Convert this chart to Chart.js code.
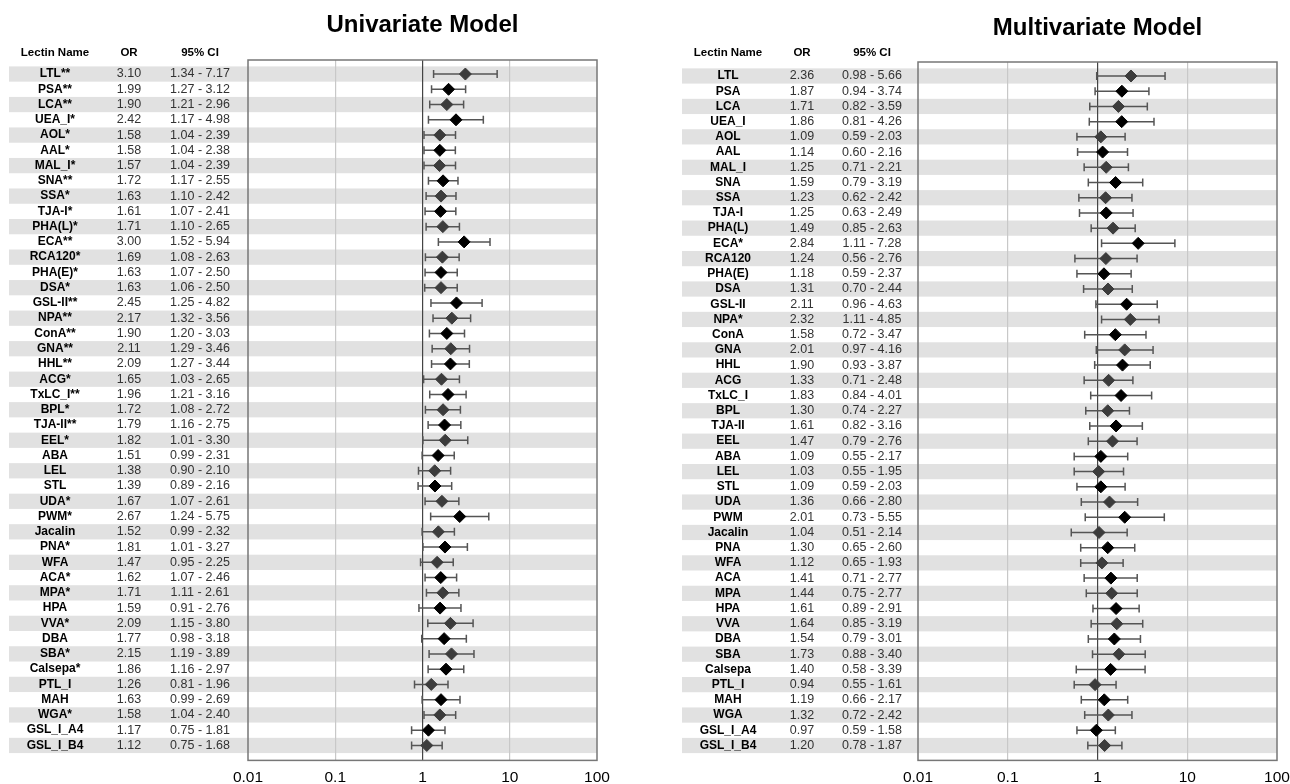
<!DOCTYPE html>
<html>
<head>
<meta charset="utf-8">
<script src="https://cdn.jsdelivr.net/npm/chart.js@4.4.1/dist/chart.umd.min.js"></script>
<style>
  body { margin: 0; background: #fff; overflow: hidden; }
  .panel { position: absolute; top: 0; height: 795px; }
</style>
</head>
<body>
<div class="panel" style="left:0;width:645px"><canvas id="uniChart" width="645" height="795"></canvas></div>
<div class="panel" style="left:645px;width:665px"><canvas id="multiChart" width="665" height="795"></canvas></div>
<script>
// Univariate model
const uniNames = ['LTL**', 'PSA**', 'LCA**', 'UEA_I*', 'AOL*', 'AAL*', 'MAL_I*', 'SNA**', 'SSA*', 'TJA-I*',
  'PHA(L)*', 'ECA**', 'RCA120*', 'PHA(E)*', 'DSA*', 'GSL-II**', 'NPA**', 'ConA**', 'GNA**', 'HHL**',
  'ACG*', 'TxLC_I**', 'BPL*', 'TJA-II**', 'EEL*', 'ABA', 'LEL', 'STL', 'UDA*', 'PWM*',
  'Jacalin', 'PNA*', 'WFA', 'ACA*', 'MPA*', 'HPA', 'VVA*', 'DBA', 'SBA*', 'Calsepa*',
  'PTL_I', 'MAH', 'WGA*', 'GSL_I_A4', 'GSL_I_B4'];
const uniOR = [3.10, 1.99, 1.90, 2.42, 1.58, 1.58, 1.57, 1.72, 1.63, 1.61,
  1.71, 3.00, 1.69, 1.63, 1.63, 2.45, 2.17, 1.90, 2.11, 2.09,
  1.65, 1.96, 1.72, 1.79, 1.82, 1.51, 1.38, 1.39, 1.67, 2.67,
  1.52, 1.81, 1.47, 1.62, 1.71, 1.59, 2.09, 1.77, 2.15, 1.86,
  1.26, 1.63, 1.58, 1.17, 1.12];
const uniLow = [1.34, 1.27, 1.21, 1.17, 1.04, 1.04, 1.04, 1.17, 1.10, 1.07,
  1.10, 1.52, 1.08, 1.07, 1.06, 1.25, 1.32, 1.20, 1.29, 1.27,
  1.03, 1.21, 1.08, 1.16, 1.01, 0.99, 0.90, 0.89, 1.07, 1.24,
  0.99, 1.01, 0.95, 1.07, 1.11, 0.91, 1.15, 0.98, 1.19, 1.16,
  0.81, 0.99, 1.04, 0.75, 0.75];
const uniHigh = [7.17, 3.12, 2.96, 4.98, 2.39, 2.38, 2.39, 2.55, 2.42, 2.41,
  2.65, 5.94, 2.63, 2.50, 2.50, 4.82, 3.56, 3.03, 3.46, 3.44,
  2.65, 3.16, 2.72, 2.75, 3.30, 2.31, 2.10, 2.16, 2.61, 5.75,
  2.32, 3.27, 2.25, 2.46, 2.61, 2.76, 3.80, 3.18, 3.89, 2.97,
  1.96, 2.69, 2.40, 1.81, 1.68];

// Multivariate model
const multiNames = ['LTL', 'PSA', 'LCA', 'UEA_I', 'AOL', 'AAL', 'MAL_I', 'SNA', 'SSA', 'TJA-I',
  'PHA(L)', 'ECA*', 'RCA120', 'PHA(E)', 'DSA', 'GSL-II', 'NPA*', 'ConA', 'GNA', 'HHL',
  'ACG', 'TxLC_I', 'BPL', 'TJA-II', 'EEL', 'ABA', 'LEL', 'STL', 'UDA', 'PWM',
  'Jacalin', 'PNA', 'WFA', 'ACA', 'MPA', 'HPA', 'VVA', 'DBA', 'SBA', 'Calsepa',
  'PTL_I', 'MAH', 'WGA', 'GSL_I_A4', 'GSL_I_B4'];
const multiOR = [2.36, 1.87, 1.71, 1.86, 1.09, 1.14, 1.25, 1.59, 1.23, 1.25,
  1.49, 2.84, 1.24, 1.18, 1.31, 2.11, 2.32, 1.58, 2.01, 1.90,
  1.33, 1.83, 1.30, 1.61, 1.47, 1.09, 1.03, 1.09, 1.36, 2.01,
  1.04, 1.30, 1.12, 1.41, 1.44, 1.61, 1.64, 1.54, 1.73, 1.40,
  0.94, 1.19, 1.32, 0.97, 1.20];
const multiLow = [0.98, 0.94, 0.82, 0.81, 0.59, 0.60, 0.71, 0.79, 0.62, 0.63,
  0.85, 1.11, 0.56, 0.59, 0.70, 0.96, 1.11, 0.72, 0.97, 0.93,
  0.71, 0.84, 0.74, 0.82, 0.79, 0.55, 0.55, 0.59, 0.66, 0.73,
  0.51, 0.65, 0.65, 0.71, 0.75, 0.89, 0.85, 0.79, 0.88, 0.58,
  0.55, 0.66, 0.72, 0.59, 0.78];
const multiHigh = [5.66, 3.74, 3.59, 4.26, 2.03, 2.16, 2.21, 3.19, 2.42, 2.49,
  2.63, 7.28, 2.76, 2.37, 2.44, 4.63, 4.85, 3.47, 4.16, 3.87,
  2.48, 4.01, 2.27, 3.16, 2.76, 2.17, 1.95, 2.03, 2.80, 5.55,
  2.14, 2.60, 1.93, 2.77, 2.77, 2.91, 3.19, 3.01, 3.40, 3.39,
  1.61, 2.17, 2.42, 1.58, 1.87];

const xTicks = [0.01, 0.1, 1, 10, 100];
const FONT = "'Liberation Sans', Arial, sans-serif";

// table text, stripes, error bars
const forestPlugin = {
  id: 'forest',
  beforeDraw(chart) {
    const o = chart.options.plugins.forest;
    const ctx = chart.ctx;
    const y = chart.scales.y;
    const area = chart.chartArea;
    ctx.save();
    // stripes
    ctx.fillStyle = '#e1e1e1';
    o.names.forEach((n, i) => {
      if (i % 2 !== 0) return;
      const top = y.getPixelForValue(i - 0.5);
      const bot = y.getPixelForValue(i + 0.5);
      ctx.fillRect(o.stripeLeft, top, area.right - o.stripeLeft, bot - top);
    });
    // title
    ctx.fillStyle = '#000';
    ctx.textAlign = 'center';
    ctx.textBaseline = 'middle';
    ctx.font = 'bold 24px ' + FONT;
    ctx.fillText(o.title, (area.left + area.right) / 2, o.titleY);
    // headers
    ctx.font = 'bold 11.5px ' + FONT;
    ctx.fillText('Lectin Name', o.colName, 53);
    ctx.fillText('OR', o.colOR, 53);
    ctx.fillText('95% CI', o.colCI, 53);
    // rows
    o.names.forEach((n, i) => {
      const py = y.getPixelForValue(i);
      ctx.font = 'bold 12px ' + FONT;
      ctx.fillStyle = '#000';
      ctx.fillText(n, o.colName, py);
      ctx.font = '12.5px ' + FONT;
      ctx.fillStyle = '#333';
      ctx.fillText(o.or[i].toFixed(2), o.colOR, py);
      ctx.fillText(o.low[i].toFixed(2) + ' - ' + o.high[i].toFixed(2), o.colCI, py);
    });
    ctx.restore();
  },
  beforeDatasetsDraw(chart) {
    const o = chart.options.plugins.forest;
    const ctx = chart.ctx;
    const x = chart.scales.x, y = chart.scales.y;
    ctx.save();
    ctx.strokeStyle = '#555';
    ctx.lineWidth = 1.5;
    o.low.forEach((lo, i) => {
      const py = y.getPixelForValue(i);
      const x1 = x.getPixelForValue(lo), x2 = x.getPixelForValue(o.high[i]);
      ctx.beginPath();
      ctx.moveTo(x1, py); ctx.lineTo(x2, py);
      ctx.moveTo(x1, py - 4); ctx.lineTo(x1, py + 4);
      ctx.moveTo(x2, py - 4); ctx.lineTo(x2, py + 4);
      ctx.stroke();
    });
    ctx.restore();
  },
  afterDraw(chart) {
    const a = chart.chartArea;
    const ctx = chart.ctx;
    ctx.save();
    ctx.strokeStyle = '#777';
    ctx.lineWidth = 1.5;
    ctx.strokeRect(a.left, a.top, a.right - a.left, a.bottom - a.top);
    ctx.restore();
  }
};

function makeForest(id, o) {
  const ctx = document.getElementById(id).getContext('2d');
  return new Chart(ctx, {
    type: 'scatter',
    data: {
      datasets: [{
        data: o.or.map((v, i) => ({ x: v, y: i })),
        pointStyle: 'rectRot',
        pointRadius: 6,
        pointHoverRadius: 6,
        pointBackgroundColor: o.or.map((v, i) => i % 2 === 0 ? '#3c3c3c' : '#000'),
        pointBorderColor: o.or.map((v, i) => i % 2 === 0 ? '#3c3c3c' : '#000'),
        pointBorderWidth: 1
      }]
    },
    options: {
      responsive: false,
      animation: false,
      devicePixelRatio: 1,
      layout: { padding: { left: o.left, right: o.width - o.right, top: o.top, bottom: 0 } },
      scales: {
        x: {
          type: 'logarithmic',
          min: 0.01,
          max: 100,
          afterBuildTicks: (axis) => { axis.ticks = xTicks.map(v => ({ value: v })); },
          ticks: {
            callback: (v) => String(v),
            font: { family: FONT, size: 15.5 },
            color: '#000',
            padding: 8,
            maxRotation: 0,
            autoSkip: false
          },
          grid: {
            drawTicks: false,
            color: (c) => c.tick && c.tick.value === 1 ? '#444' : (c.tick && (c.tick.value === 0.1 || c.tick.value === 10) ? '#c8c8c8' : 'rgba(0,0,0,0)'),
            lineWidth: 1.2
          },
          border: { display: false }
        },
        y: {
          type: 'linear',
          display: false,
          reverse: true,
          min: -0.92,
          max: 44.98
        }
      },
      plugins: {
        legend: { display: false },
        tooltip: { enabled: false },
        forest: o
      }
    },
    plugins: [forestPlugin]
  });
}

makeForest('uniChart', {
  title: 'Univariate Model', titleY: 25, width: 645,
  names: uniNames, or: uniOR, low: uniLow, high: uniHigh,
  left: 248, right: 597, top: 60,
  stripeLeft: 9, colName: 55, colOR: 129, colCI: 200
});

makeForest('multiChart', {
  title: 'Multivariate Model', titleY: 28, width: 665,
  names: multiNames, or: multiOR, low: multiLow, high: multiHigh,
  left: 273, right: 632, top: 62,
  stripeLeft: 37, colName: 83, colOR: 157, colCI: 227
});
</script>
</body>
</html>
